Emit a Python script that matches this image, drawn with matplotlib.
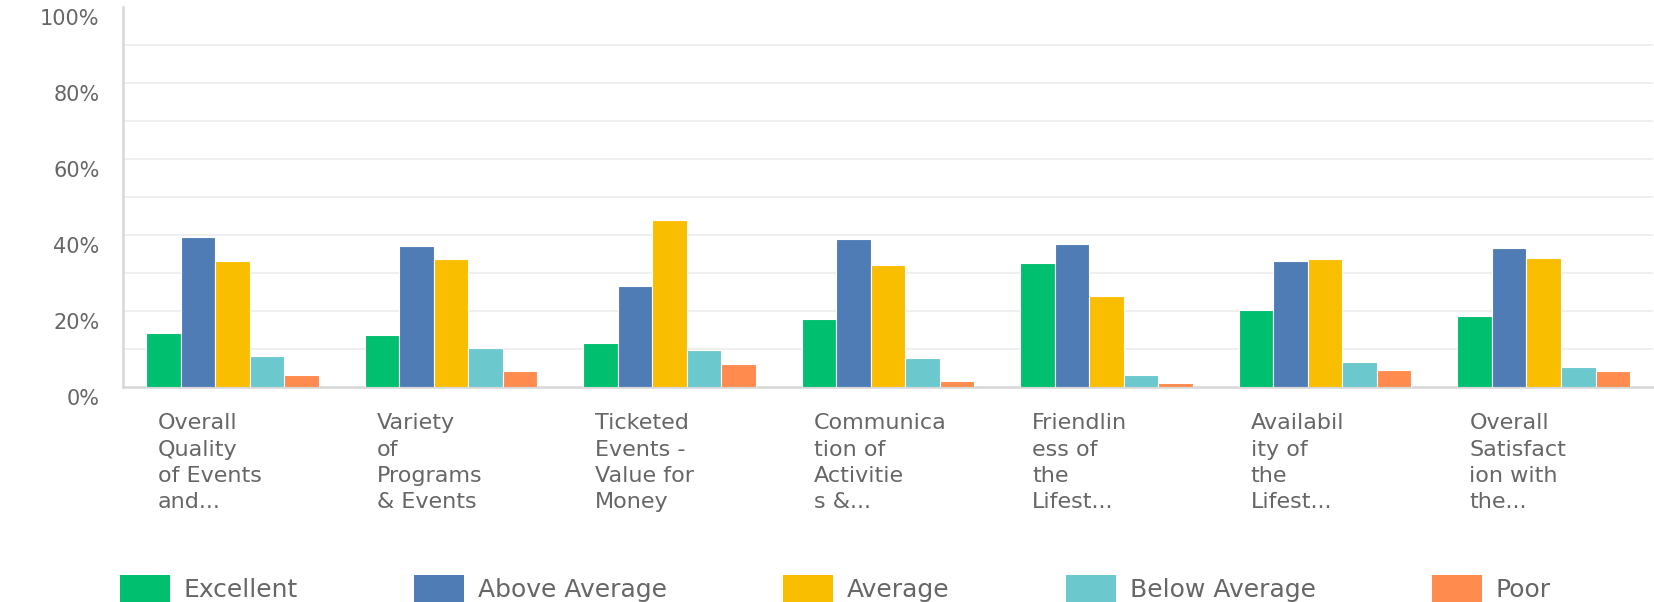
import matplotlib.pyplot as plt
import matplotlib.transforms as mtransforms
import numpy as np

categories = ["Overall\nQuality\nof Events\nand...",
              "Variety\nof\nPrograms\n& Events",
              "Ticketed\nEvents -\nValue for\nMoney",
              "Communica\ntion of\nActivitie\ns &...",
              "Friendlin\ness of\nthe\nLifest...",
              "Availabil\nity of\nthe\nLifest...",
              "Overall\nSatisfact\nion with\nthe..."]
series = ["Excellent", "Above Average", "Average", "Below Average", "Poor"]
excellent = [14.3, 13.7, 11.7, 17.8, 32.7, 20.2, 18.7]
above_average = [39.6, 37.2, 26.7, 39.1, 37.7, 33.2, 36.7]
average = [33.2, 33.6, 44.1, 32.1, 24.1, 33.6, 34.1]
below_average = [8.2, 10.2, 9.7, 7.7, 3.2, 6.7, 5.3]
poor = [3.2, 4.2, 6.2, 1.7, 1.1, 4.6, 4.2]
colors = ["#00bf6f", "#507cb6", "#f9be00", "#6bc8cd", "#ff8b4f"]
yticks = [0, 20, 40, 60, 80, 100]

values = [excellent, above_average, average, below_average, poor]
txt = "#666666"

fig = plt.figure(figsize=(16.54, 6.02), dpi=100)
ax = fig.add_axes([0.0744, 0.357, 0.925, 0.631])

x = np.arange(len(categories))
w = 0.158
for k, (name, vals) in enumerate(zip(series, values)):
    ax.bar(x - 2 * w + k * w, vals, w, color=colors[k], label=name,
           edgecolor="white", linewidth=0.8, zorder=3)

# light horizontal guides every 10%
for v in range(10, 100, 10):
    ax.axhline(v, color="#ececec", lw=1.2, zorder=1)

ax.set_xlim(-0.5, len(categories) - 0.5)
ax.set_ylim(0, 100)
ax.set_yticks(yticks)
ax.set_yticklabels([f"{v}%" for v in yticks], fontsize=15, color=txt)
ax.tick_params(axis="y", length=0, pad=17)
shift = mtransforms.ScaledTranslation(0, -10 / 100, fig.dpi_scale_trans)
for lab in ax.get_yticklabels():
    lab.set_transform(lab.get_transform() + shift)

ax.set_xticks(x - 0.34)
ax.set_xticklabels(categories, fontsize=16, color=txt, ha="left",
                   linespacing=1.38)
ax.tick_params(axis="x", length=0, pad=19)

for s in ["top", "right"]:
    ax.spines[s].set_visible(False)
ax.spines["left"].set_color("#d6d6d6")
ax.spines["left"].set_linewidth(1.8)
ax.spines["bottom"].set_color("#d6d6d6")
ax.spines["bottom"].set_linewidth(1.8)

leg = fig.legend(loc="center", bbox_to_anchor=(0.505, 0.022), ncol=5,
                 frameon=False, fontsize=18, labelcolor=txt,
                 handlelength=2.0, handleheight=1.35, handletextpad=0.55,
                 columnspacing=4.65)
for h in leg.legend_handles:
    h.set_edgecolor("none")

fig.savefig("out.png", dpi=100)
